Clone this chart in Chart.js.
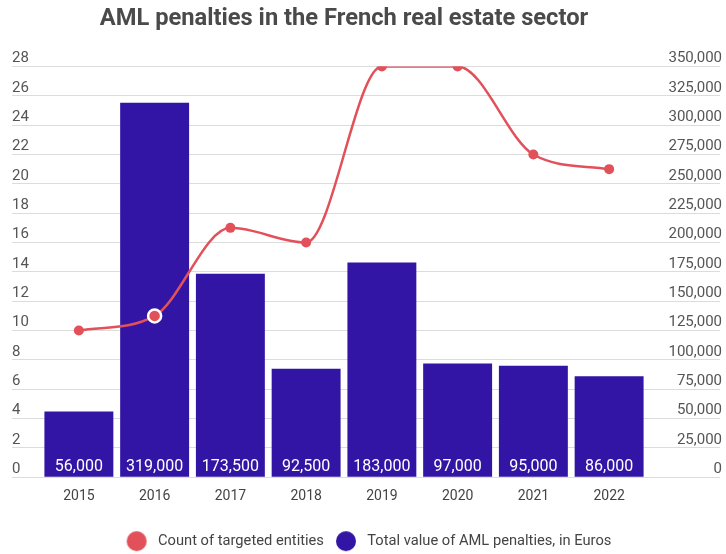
<!DOCTYPE html>
<html>
<head>
<meta charset="utf-8">
<script src="https://cdn.jsdelivr.net/npm/chart.js@4/dist/chart.umd.min.js"></script>
<style>
  html, body { margin: 0; padding: 0; background: #fff; }
  canvas { display: block; }
</style>
</head>
<body>
<canvas id="amlChart" width="726" height="554"></canvas>
<script>
// ## AML PENALTIES CHART ##

const years = ["2015", "2016", "2017", "2018", "2019", "2020", "2021", "2022"];
const targetedEntities = [10, 11, 17, 16, 28, 28, 22, 21];
const penaltiesEuros = [56000, 319000, 173500, 92500, 183000, 97000, 95000, 86000];

const LINE_RED = "#e2505a";
const BAR_BLUE = "#3315a6";

// round legend marker with some room on its right before the text
function legendDot(color) {
  const c = document.createElement("canvas");
  c.width = 28;
  c.height = 22;
  const g = c.getContext("2d");
  g.fillStyle = color;
  g.beginPath();
  g.arc(14, 11, 10, 0, Math.PI * 2);
  g.fill();
  return c;
}

// white value labels at the foot of each bar
const barValueLabels = {
  id: "barValueLabels",
  afterDatasetsDraw(chart) {
    const ctx = chart.ctx;
    const meta = chart.getDatasetMeta(1);
    ctx.save();
    ctx.fillStyle = "#ffffff";
    ctx.font = "16px Roboto";
    ctx.textAlign = "center";
    ctx.textBaseline = "middle";
    meta.data.forEach((bar, i) => {
      ctx.fillText(penaltiesEuros[i].toLocaleString("en-US"), bar.x, bar.base - 10);
    });
    ctx.restore();
  },
};

const ctx = document.getElementById("amlChart").getContext("2d");

window.amlChart = new Chart(ctx, {
  type: "bar",
  data: {
    labels: years,
    datasets: [
      {
        type: "line",
        label: "Count of targeted entities",
        data: targetedEntities,
        yAxisID: "y",
        borderColor: LINE_RED,
        backgroundColor: LINE_RED,
        borderWidth: 2.5,
        cubicInterpolationMode: "monotone",
        pointRadius: [5, 6.5, 5, 5, 5, 5, 5, 5],
        pointBorderWidth: [0, 2.5, 0, 0, 0, 0, 0, 0],
        pointBorderColor: "#ffffff",
        order: 0,
      },
      {
        label: "Total value of AML penalties, in Euros",
        data: penaltiesEuros,
        yAxisID: "y1",
        backgroundColor: BAR_BLUE,
        borderWidth: 0,
        barPercentage: 0.91,
        categoryPercentage: 1,
        order: 1,
      },
    ],
  },
  options: {
    responsive: false,
    animation: false,
    layout: {
      padding: { left: 12, right: 4, top: 0, bottom: -4.5 },
    },
    plugins: {
      title: {
        display: true,
        fullSize: false,
        text: "AML penalties in the French real estate sector",
        color: "#4a4a4a",
        font: { family: "Roboto", size: 23.7, weight: "bold" },
        padding: { top: 5, bottom: 33 },
      },
      legend: {
        position: "bottom",
        labels: {
          usePointStyle: true,
          pointStyleWidth: 28,
          padding: 8,
          color: "#444",
          font: { family: "Roboto", size: 14.7 },
          generateLabels: (chart) =>
            Chart.defaults.plugins.legend.labels.generateLabels(chart).map((item, i) => ({
              ...item,
              pointStyle: legendDot(i === 0 ? LINE_RED : BAR_BLUE),
            })),
        },
      },
      tooltip: { enabled: false },
    },
    scales: {
      x: {
        grid: { display: false },
        border: { display: false },
        ticks: {
          color: "#444",
          font: { family: "Roboto", size: 14 },
          padding: 3,
          maxRotation: 0,
        },
        afterFit: (axis) => {
          axis.height = 48.5;
        },
      },
      y: {
        position: "left",
        min: 0,
        max: 28,
        ticks: {
          stepSize: 2,
          color: "#555",
          crossAlign: "far",
          labelOffset: -8,
          padding: 0,
          font: { family: "Roboto", size: 15 },
        },
        grid: {
          color: "#dcdcdc",
          lineWidth: 1,
          tickLength: 29,
        },
        border: { display: false },
        afterFit: (axis) => {
          axis.width = 29;
        },
      },
      y1: {
        position: "right",
        min: 0,
        max: 350000,
        ticks: {
          stepSize: 25000,
          color: "#555",
          crossAlign: "far",
          labelOffset: -8,
          padding: 0,
          font: { family: "Roboto", size: 15 },
          callback: (value) => value.toLocaleString("en-US"),
        },
        grid: {
          drawOnChartArea: false,
          color: "#dcdcdc",
          tickLength: 73,
        },
        border: { display: false },
        afterFit: (axis) => {
          axis.width = 75;
        },
      },
    },
  },
  plugins: [barValueLabels],
});
</script>
</body>
</html>
